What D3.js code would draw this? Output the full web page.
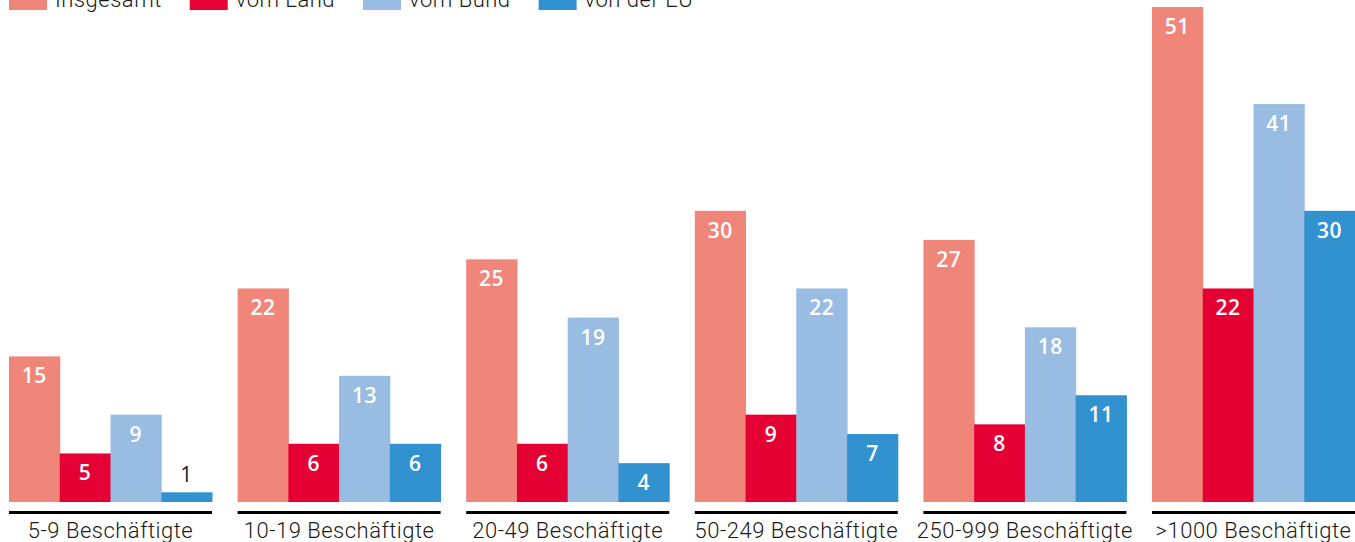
<!DOCTYPE html>
<html>
<head>
<meta charset="utf-8">
<script src="https://cdn.jsdelivr.net/npm/d3@7"></script>
<style>
  body { margin: 0; background: #fff; }
  svg { display: block; }
  .cat-label { font-family: Roboto, sans-serif; font-weight: 300; font-size: 22px; letter-spacing: 0.5px; fill: #1a1a1a; }
  .legend-label { font-family: Roboto, sans-serif; font-weight: 300; font-size: 22px; letter-spacing: 0.5px; fill: #1a1a1a; }
  .value-label { font-family: "Open Sans", sans-serif; font-weight: 600; font-size: 21px; letter-spacing: 0.5px; }
</style>
</head>
<body>
<svg id="chart" width="1355" height="542"></svg>
<script>
// data
const categories = ['5-9 Beschäftigte', '10-19 Beschäftigte', '20-49 Beschäftigte',
    '50-249 Beschäftigte', '250-999 Beschäftigte', '>1000 Beschäftigte'];
const seriesNames = ['Insgesamt', 'vom Land', 'vom Bund', 'von der EU'];
const insgesamt = [15, 22, 25, 30, 27, 51];
const vomLand = [5, 6, 6, 9, 8, 22];
const vomBund = [9, 13, 19, 22, 18, 41];
const vonDerEU = [1, 6, 4, 7, 11, 30];
const colors = ['#f0857a', '#e40033', '#99bce3', '#3192cf'];

const seriesValues = [insgesamt, vomLand, vomBund, vonDerEU];

const svg = d3.select('#chart');
const baseline = 502;

const x0 = d3.scaleBand()
    .domain(categories)
    .range([9, 1355])
    .paddingInner(0.112)
    .paddingOuter(0);

const x1 = d3.scaleBand()
    .domain(seriesNames)
    .range([0, x0.bandwidth()]);

const y = d3.scaleLinear()
    .domain([0, 51])
    .range([baseline, 7]);

const groups = svg.append('g').attr('class', 'groups')
    .selectAll('g')
    .data(categories)
    .join('g')
    .attr('transform', d => `translate(${x0(d)},0)`);

const cells = groups.selectAll('g.bar')
    .data((c, i) => seriesNames.map((s, j) => ({ series: s, value: seriesValues[j][i], color: colors[j] })))
    .join('g')
    .attr('class', 'bar');

cells.append('rect')
    .attr('x', d => x1(d.series))
    .attr('y', d => y(d.value))
    .attr('width', x1.bandwidth() + 0.5)
    .attr('height', d => baseline - y(d.value))
    .attr('fill', d => d.color);

// labels inside bars, or above if the bar is too short
const fits = d => baseline - y(d.value) > 30;
cells.append('text')
    .attr('class', 'value-label')
    .attr('text-anchor', 'middle')
    .attr('x', d => x1(d.series) + x1.bandwidth() / 2)
    .attr('y', d => fits(d) ? y(d.value) + 27 : y(d.value) - 10)
    .attr('fill', d => fits(d) ? '#fff' : '#1a1a1a')
    .style('font-weight', d => fits(d) ? null : 400)
    .text(d => d.value);

// underline per group
groups.append('line')
    .attr('x1', 0)
    .attr('x2', x0.bandwidth())
    .attr('y1', 512.5)
    .attr('y2', 512.5)
    .attr('stroke', '#000')
    .attr('stroke-width', 3);

groups.append('text')
    .attr('class', 'cat-label')
    .attr('text-anchor', 'middle')
    .attr('x', x0.bandwidth() / 2)
    .attr('y', 538)
    .text(d => d);

// legend, flowed left to right
const legend = svg.append('g').attr('class', 'legend');
let lx = 9;
seriesNames.forEach((name, i) => {
    legend.append('rect')
        .attr('x', lx)
        .attr('y', -10)
        .attr('width', 38)
        .attr('height', 20)
        .attr('fill', colors[i]);
    const t = legend.append('text')
        .attr('class', 'legend-label')
        .attr('x', lx + 46)
        .attr('y', 7)
        .text(name);
    lx += 46 + t.node().getComputedTextLength() + 28;
});
</script>
</body>
</html>
